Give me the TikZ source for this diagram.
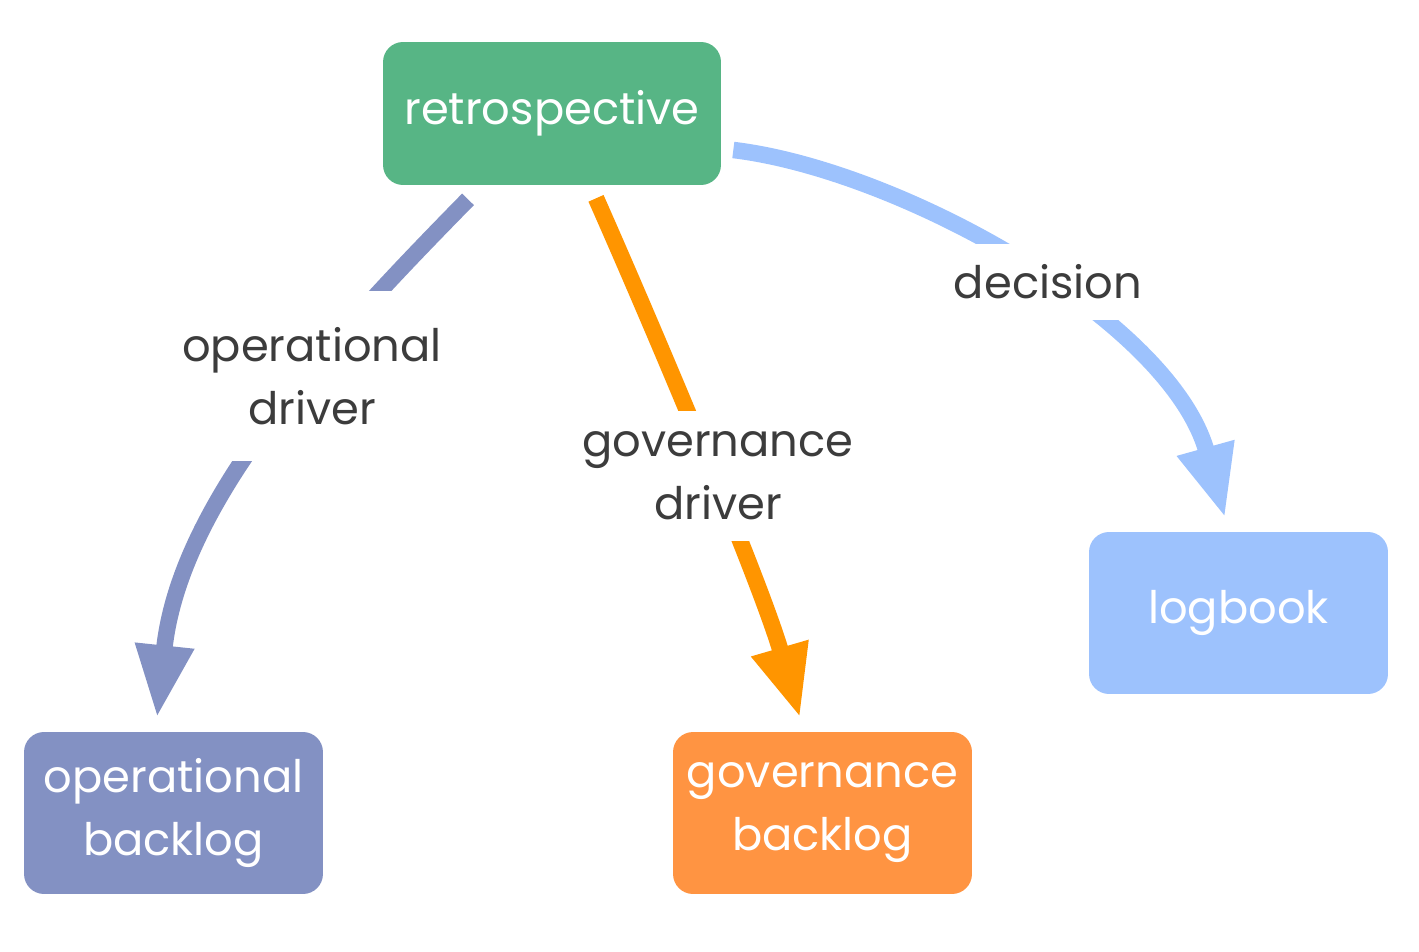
\documentclass[tikz,border=0pt]{standalone}
\usepackage{fontspec}
\setmainfont{Poppins}
\usepackage{xcolor}
\usetikzlibrary{arrows.meta, positioning, calc}
\definecolor{retrofill}{RGB}{87,181,133}
\definecolor{opfill}{RGB}{131,145,195}
\definecolor{govfill}{RGB}{255,148,66}
\definecolor{govline}{RGB}{255,149,0}
\definecolor{logfill}{RGB}{157,194,253}
\definecolor{labeltext}{RGB}{60,60,60}
\newcommand{\diagfont}{\fontsize{25.5}{35.9}\selectfont}
\tikzset{
    box/.style={
        rectangle,
        rounded corners=0.4cm,
        text=white,
        align=center,
        inner sep=0pt,
        minimum width=5.98cm,
        minimum height=3.24cm,
        font=\diagfont
    },
    driver/.style={
        line width=0.33cm,
        -{Triangle[length=1.45cm,width=1.1cm]}
    },
    edgelabel/.style={
        fill=white,
        text=labeltext,
        align=center,
        inner xsep=0.3cm,
        inner ysep=0.42cm,
        font=\diagfont
    }
}

\begin{document}
\begin{tikzpicture}[x=0.02cm, y=-0.02cm]
\useasboundingbox (0,0) rectangle (1419,952);
% Boxes
\node[box, fill=retrofill, minimum width=6.76cm, minimum height=2.86cm] (retro) at (552,113.5) {retrospective};
\node[box, fill=opfill] (opback) at (173.5,813) {operational\\backlog};
\node[box, fill=govfill] (govback) at (822.5,813) {governance\\backlog};
\node[box, fill=logfill] (logbook) at (1238.5,613) {logbook};

% Drivers
\draw[driver, opfill] ($(retro.south)+(-84,14)$) .. controls (330,340) and (180,500) .. ($(opback.north)+(-16.5,-14)$);
\draw[driver, govline] ($(retro.south)+(44,13)$) .. controls (650,320) and (760,580) .. ($(govback.north)+(-22.5,-14)$);
\draw[driver, logfill] ($(retro.east)+(12,36.5)$) .. controls (900,170) and (1170,320) .. ($(logbook.north)+(-13.5,-14)$);

% Labels
\node[edgelabel, inner ysep=0.72cm] (oplabel) at (312,376) {operational\\driver};
\node[edgelabel] (govlabel) at (718,476) {governance\\driver};
\node[edgelabel] (declabel) at (1048,282) {decision};
\end{tikzpicture}
\end{document}
